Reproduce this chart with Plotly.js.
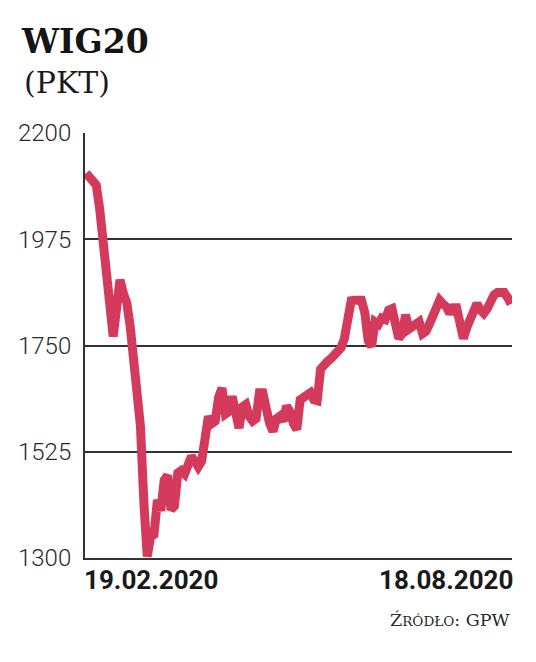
<!DOCTYPE html>
<html>
<head>
<meta charset="utf-8">
<script src="https://cdn.plot.ly/plotly-3.0.1.min.js"></script>
<style>html,body{margin:0;padding:0;background:#fff;}#chart{width:536px;height:662px;}</style>
</head>
<body>
<div id="chart"></div>
<script>
// Trading days 19.02.2020 - 18.08.2020
const dates = [
 "2020-02-19","2020-02-20","2020-02-21","2020-02-24","2020-02-25","2020-02-26","2020-02-27","2020-02-28",
 "2020-03-02","2020-03-03","2020-03-04","2020-03-05","2020-03-06","2020-03-09","2020-03-10","2020-03-11",
 "2020-03-12","2020-03-13","2020-03-16","2020-03-17","2020-03-18","2020-03-19","2020-03-20","2020-03-23",
 "2020-03-24","2020-03-25","2020-03-26","2020-03-27","2020-03-30","2020-03-31",
 "2020-04-01","2020-04-02","2020-04-03","2020-04-06","2020-04-07","2020-04-08","2020-04-09","2020-04-14",
 "2020-04-15","2020-04-16","2020-04-17","2020-04-20","2020-04-21","2020-04-22","2020-04-23","2020-04-24",
 "2020-04-27","2020-04-28","2020-04-29","2020-04-30",
 "2020-05-04","2020-05-05","2020-05-06","2020-05-07","2020-05-08","2020-05-11","2020-05-12","2020-05-13",
 "2020-05-14","2020-05-15","2020-05-18","2020-05-19","2020-05-20","2020-05-21","2020-05-22","2020-05-25",
 "2020-05-26","2020-05-27","2020-05-28","2020-05-29",
 "2020-06-01","2020-06-02","2020-06-03","2020-06-04","2020-06-05","2020-06-08","2020-06-09","2020-06-10",
 "2020-06-12","2020-06-15","2020-06-16","2020-06-17","2020-06-18","2020-06-19","2020-06-22","2020-06-23",
 "2020-06-24","2020-06-25","2020-06-26","2020-06-29","2020-06-30",
 "2020-07-01","2020-07-02","2020-07-03","2020-07-06","2020-07-07","2020-07-08","2020-07-09","2020-07-10",
 "2020-07-13","2020-07-14","2020-07-15","2020-07-16","2020-07-17","2020-07-20","2020-07-21","2020-07-22",
 "2020-07-23","2020-07-24","2020-07-27","2020-07-28","2020-07-29","2020-07-30","2020-07-31",
 "2020-08-03","2020-08-04","2020-08-05","2020-08-06","2020-08-07","2020-08-10","2020-08-11","2020-08-12",
 "2020-08-13","2020-08-14","2020-08-17","2020-08-18"
];

const wig20 = [
 2115,2105,2098,2090,2040,1965,1935,1845,
 1769,1830,1889,1860,1840,1790,1720,1610,
 1580,1420,1303,1345,1350,1423,1400,1465,
 1475,1402,1410,1480,1485,1478,
 1505,1515,1505,1493,1505,1570,1600,1585,
 1590,1640,1660,1605,1610,1642,1605,1575,
 1620,1625,1600,1590,
 1595,1650,1650,1605,1585,1568,1595,1600,
 1590,1622,1610,1585,1572,1635,1640,1650,
 1650,1635,1633,1700,
 1712,1716,1722,1728,1733,1745,1765,1810,
 1845,1846,1846,1846,1820,1760,1748,1800,
 1795,1808,1805,1825,1828,
 1797,1765,1775,1815,1785,1790,1792,1800,
 1775,1780,1795,1815,1835,1846,1838,1832,
 1818,1830,1830,1800,1765,1788,1810,
 1830,1839,1825,1818,1828,1843,1857,1862,
 1862,1862,1852,1838
];

const yTicks = [1300, 1525, 1750, 1975, 2200];
const xTickLabels = ["19.02.2020", "18.08.2020"];
const titleText = "WIG20";
const unitText = "(PKT)";
const sourceText = 'Ź<span style="font-size:13.5px">RÓDŁO</span>: GPW';

const trace = {
  x: dates,
  y: wig20,
  type: 'scatter',
  mode: 'lines',
  line: {color: '#d33a5c', width: 9},
  hoverinfo: 'skip'
};

const layout = {
  width: 536, height: 662,
  margin: {l: 85, r: 24, t: 133, b: 104},
  paper_bgcolor: '#ffffff',
  plot_bgcolor: '#ffffff',
  showlegend: false,
  title: {
    text: titleText,
    font: {family: 'DejaVu Serif', size: 33, color: '#151515', weight: 'bold'},
    xref: 'container', x: 22/536, xanchor: 'left',
    yref: 'container', y: 1 - 41/662, yanchor: 'middle'
  },
  xaxis: {
    type: 'category',
    range: [-0.3, dates.length - 0.7],
    showgrid: false,
    zeroline: false,
    showline: true,
    linecolor: '#333333',
    linewidth: 2,
    showticklabels: false,
    ticks: ''
  },
  yaxis: {
    range: [1300, 2200],
    tickvals: yTicks,
    ticktext: yTicks.map(String),
    showgrid: true,
    gridcolor: '#333333',
    gridwidth: 2,
    zeroline: false,
    showline: true,
    linecolor: '#333333',
    linewidth: 2,
    ticks: '',
    ticklabelstandoff: 7,
    tickfont: {family: 'Roboto', size: 24, color: '#2a2a2a', weight: 300}
  },
  annotations: [
    {
      text: unitText, xref: 'paper', yref: 'paper',
      x: (22 - 85) / 427, xanchor: 'left',
      y: (558 - 83) / 425, yanchor: 'middle',
      showarrow: false,
      font: {family: 'DejaVu Serif', size: 30, color: '#1a1a1a'}
    },
    {
      text: xTickLabels[0], xref: 'x', yref: 'paper',
      x: dates[0], xanchor: 'left',
      y: (558 - 580) / 425, yanchor: 'middle',
      showarrow: false, xshift: -4,
      font: {family: 'Roboto', size: 26, color: '#1a1a1a', weight: 'bold'}
    },
    {
      text: xTickLabels[1], xref: 'x', yref: 'paper',
      x: dates[dates.length - 1], xanchor: 'right',
      y: (558 - 580) / 425, yanchor: 'middle',
      showarrow: false, xshift: 4,
      font: {family: 'Roboto', size: 26, color: '#1a1a1a', weight: 'bold'}
    },
    {
      text: sourceText, xref: 'paper', yref: 'paper',
      x: 1, xanchor: 'right',
      y: (558 - 620) / 425, yanchor: 'middle',
      showarrow: false,
      font: {family: 'DejaVu Serif', size: 17.5, color: '#2a2a2a'}
    }
  ]
};

Plotly.newPlot('chart', [trace], layout, {staticPlot: true, displayModeBar: false});
</script>
</body>
</html>
